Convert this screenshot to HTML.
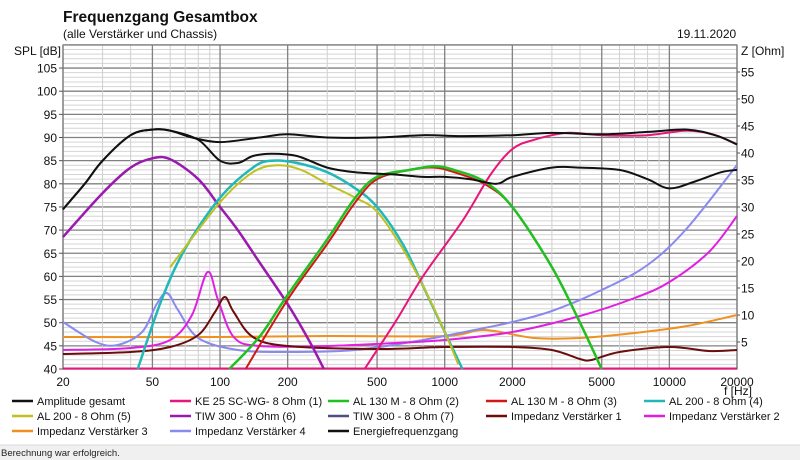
<!DOCTYPE html>
<html><head><meta charset="utf-8"><style>
body{margin:0;width:800px;height:460px;background:#fff;overflow:hidden;font-family:"Liberation Sans",sans-serif;}
svg{position:absolute;left:0;top:0}
</style></head><body>
<svg id="s" width="800" height="460" xmlns="http://www.w3.org/2000/svg" font-family="Liberation Sans, sans-serif">
<rect x="0" y="0" width="800" height="460" fill="#fff"/>
<rect x="0" y="445" width="800" height="15" fill="#f0f0f0"/>
<line x1="0" y1="445" x2="800" y2="445" stroke="#d8d8d8"/>
<text x="1" y="456" font-size="9.5" fill="#222">Berechnung war erfolgreich.</text>
<text x="63" y="22" font-size="15.5" font-weight="bold" fill="#111">Frequenzgang Gesamtbox</text>
<text x="63" y="38" font-size="12" fill="#111">(alle Verstärker und Chassis)</text>
<text x="677" y="38" font-size="12" fill="#111">19.11.2020</text>
<text x="14" y="55" font-size="12" fill="#111">SPL [dB]</text>
<text x="741" y="55" font-size="12" fill="#111">Z [Ohm]</text>
<g id="grid"></g>
<g id="curves"></g>
<g id="labels" font-size="12" fill="#111"></g>
<g id="legend" font-size="11" fill="#111"></g>
</svg>
<script>
const NS="http://www.w3.org/2000/svg";
const X0=63,X1=737,Y0=45,Y1=369;
const fx=f=>X0+224.67*Math.log10(f/20);
const dy=d=>369-(d-40)*4.63;
const oy=o=>369-o*5.4;
function el(p,t,a,txt){const e=document.createElementNS(NS,t);for(const k in a)e.setAttribute(k,a[k]);if(txt!==undefined)e.textContent=txt;document.getElementById(p).appendChild(e);return e;}
for(let d=40;d<=110;d++){const y=dy(d);el("grid","line",{x1:X0,x2:X1,y1:y,y2:y,stroke:d%5==0?"#808080":"#d4d4d4","stroke-width":d%5==0?1.3:1});}
const dec=[20,30,40,50,60,70,80,90,100,200,300,400,500,600,700,800,900,1000,2000,3000,4000,5000,6000,7000,8000,9000,10000,20000];
const maj=[20,50,100,200,500,1000,2000,5000,10000,20000];
for(const f of dec){const x=fx(f);el("grid","line",{x1:x,x2:x,y1:Y0,y2:Y1,stroke:maj.includes(f)?"#808080":"#cfcfcf","stroke-width":maj.includes(f)?1.3:1});}
el("grid","rect",{x:X0,y:Y0,width:X1-X0,height:Y1-Y0,fill:"none",stroke:"#808080","stroke-width":1.3});
for(let d=40;d<=105;d+=5){el("labels","text",{x:57,y:dy(d)+4.5,"text-anchor":"end"},d);el("grid","line",{x1:X0-4,x2:X0,y1:dy(d),y2:dy(d),stroke:"#555"});}
for(let o=5;o<=55;o+=5){el("labels","text",{x:741,y:oy(o)+4.5},o);el("grid","line",{x1:X1,x2:X1+3,y1:oy(o),y2:oy(o),stroke:"#555"});}
for(const f of maj){el("labels","text",{x:fx(f),y:386,"text-anchor":"middle"},f);}
el("labels","text",{x:724,y:395},"f [Hz]");
function curve(pts,color,w){
 const P=pts.map(p=>[fx(p[0]),p[1]]);
 let d="M"+P[0][0].toFixed(1)+","+P[0][1].toFixed(1);
 for(let i=0;i<P.length-1;i++){const p0=P[i-1]||P[i],p1=P[i],p2=P[i+1],p3=P[i+2]||p2;
  const c1=[p1[0]+(p2[0]-p0[0])/6,p1[1]+(p2[1]-p0[1])/6],c2=[p2[0]-(p3[0]-p1[0])/6,p2[1]-(p3[1]-p1[1])/6];
  d+=" C"+c1.map(v=>v.toFixed(1))+" "+c2.map(v=>v.toFixed(1))+" "+p2.map(v=>v.toFixed(1));}
 el("curves","path",{d:d,fill:"none",stroke:color,"stroke-width":w||2,"stroke-linejoin":"round"});
}
const D=a=>a.map(p=>[p[0],dy(p[1])]);
curve([[20,337],[100,337],[300,336],[1000,336],[1500,330],[2500,338],[4000,338],[7000,333],[12000,326],[20000,315]],"#f0901e",2);
curve([[20,322],[28,342],[35,345],[45,332],[52,305],[58,293],[65,310],[80,338],[120,350],[200,352],[400,350],[800,340],[1500,328],[2000,322],[3000,311],[5000,290],[8000,265],[12000,228],[20000,165]],"#8a8aee",2);
curve([[20,350],[40,348],[60,340],[75,315],[88,272],[98,300],[115,337],[150,346],[300,346],[600,343],[1000,340],[2000,332],[4000,316],[7000,298],[10000,282],[15000,252],[20000,216]],"#e020e0",2);
curve([[20,354],[40,352],[60,347],[80,335],[95,312],[105,297],[115,312],[140,337],[200,346],[500,349],[1000,347],[2000,347],[3000,350],[4000,359],[4500,360],[6000,352],[10000,347],[15000,351],[20000,350]],"#6b0d0d",2);
curve([[20,368.5],[20000,368.5]],"#e8157a",2);
curve(D([[20,68.5],[30,78],[40,83.5],[50,85.5],[60,85.3],[80,81],[100,75],[120,70],[150,63],[200,54],[250,46],[290,40]]),"#9a1ab0",2.5);
curve(D([[43,40],[55,55],[70,66],[100,77],[140,83.5],[170,85],[220,84.5],[300,82.5],[400,79],[500,75],[650,67],[800,58],[1000,48],[1200,40]]),"#20b8b8",2.5);
curve(D([[60,62],[100,76],[140,82.5],[180,84],[230,83],[300,80],[400,77],[500,74],[650,66],[800,58],[1000,48],[1150,41]]),"#c0c020",2);
curve(D([[130,40],[200,55],[300,67],[400,76],[500,81],[700,83],[900,83.5],[1100,82.5],[1500,80],[2000,75],[3000,62],[4000,50],[5000,40]]),"#d01818",2);
curve(D([[110,40],[150,47],[200,56],[300,68],[400,77],[500,81.5],[700,83],[900,83.8],[1100,83],[1500,80.5],[2000,75],[3000,62],[4000,50],[5000,40]]),"#20c020",2.5);
curve(D([[440,40],[600,50],[800,60],[1200,72],[1600,82],[2000,87.5],[2500,89.5],[3500,91],[5000,90.5],[8000,90.5],[12000,91.5],[16000,90.5],[20000,88.5]]),"#e8157a",2);
curve(D([[20,74.5],[25,80],[30,85],[40,90.5],[50,91.7],[60,91.5],[80,89.5],[100,85],[120,84.5],[140,86],[170,86.5],[220,86],[300,83.5],[400,82.5],[600,82],[800,81.5],[1000,81.5],[1300,81],[1700,80],[2000,81.5],[3000,83.5],[4000,83.5],[6000,83],[8000,81],[10000,79],[13000,80.5],[17000,82.5],[20000,83]]),"#111",2);
curve(D([[20,74.5],[25,80],[30,85],[40,90.5],[50,91.7],[60,91.5],[75,90],[100,89],[150,90],[200,90.7],[300,90],[500,90],[800,90.5],[1200,90.3],[2000,90.5],[3000,91],[5000,90.7],[8000,91.2],[12000,91.7],[16000,90.5],[20000,88.5]]),"#111",2);
const L=[["Amplitude gesamt","#111",12],["KE 25 SC-WG- 8 Ohm    (1)","#e8157a",170],["AL 130 M - 8 Ohm (2)","#20c020",328],["AL 130 M - 8 Ohm (3)","#d01818",486],["AL 200 - 8 Ohm (4)","#20b8b8",644],
["AL 200 - 8 Ohm (5)","#c0c020",12],["TIW 300 - 8 Ohm (6)","#9a1ab0",170],["TIW 300 - 8 Ohm (7)","#505080",328],["Impedanz Verstärker 1","#6b0d0d",486],["Impedanz Verstärker 2","#e020e0",644],
["Impedanz Verstärker 3","#f0901e",12],["Impedanz Verstärker 4","#8a8aee",170],["Energiefrequenzgang","#111",328]];
L.forEach((l,i)=>{const y=401+Math.floor(i/5)*15;el("legend","line",{x1:l[2],x2:l[2]+21,y1:y,y2:y,stroke:l[1],"stroke-width":2.5});el("legend","text",{x:l[2]+25,y:y+4,"xml:space":"preserve"},l[0]);});
</script>
</body></html>
